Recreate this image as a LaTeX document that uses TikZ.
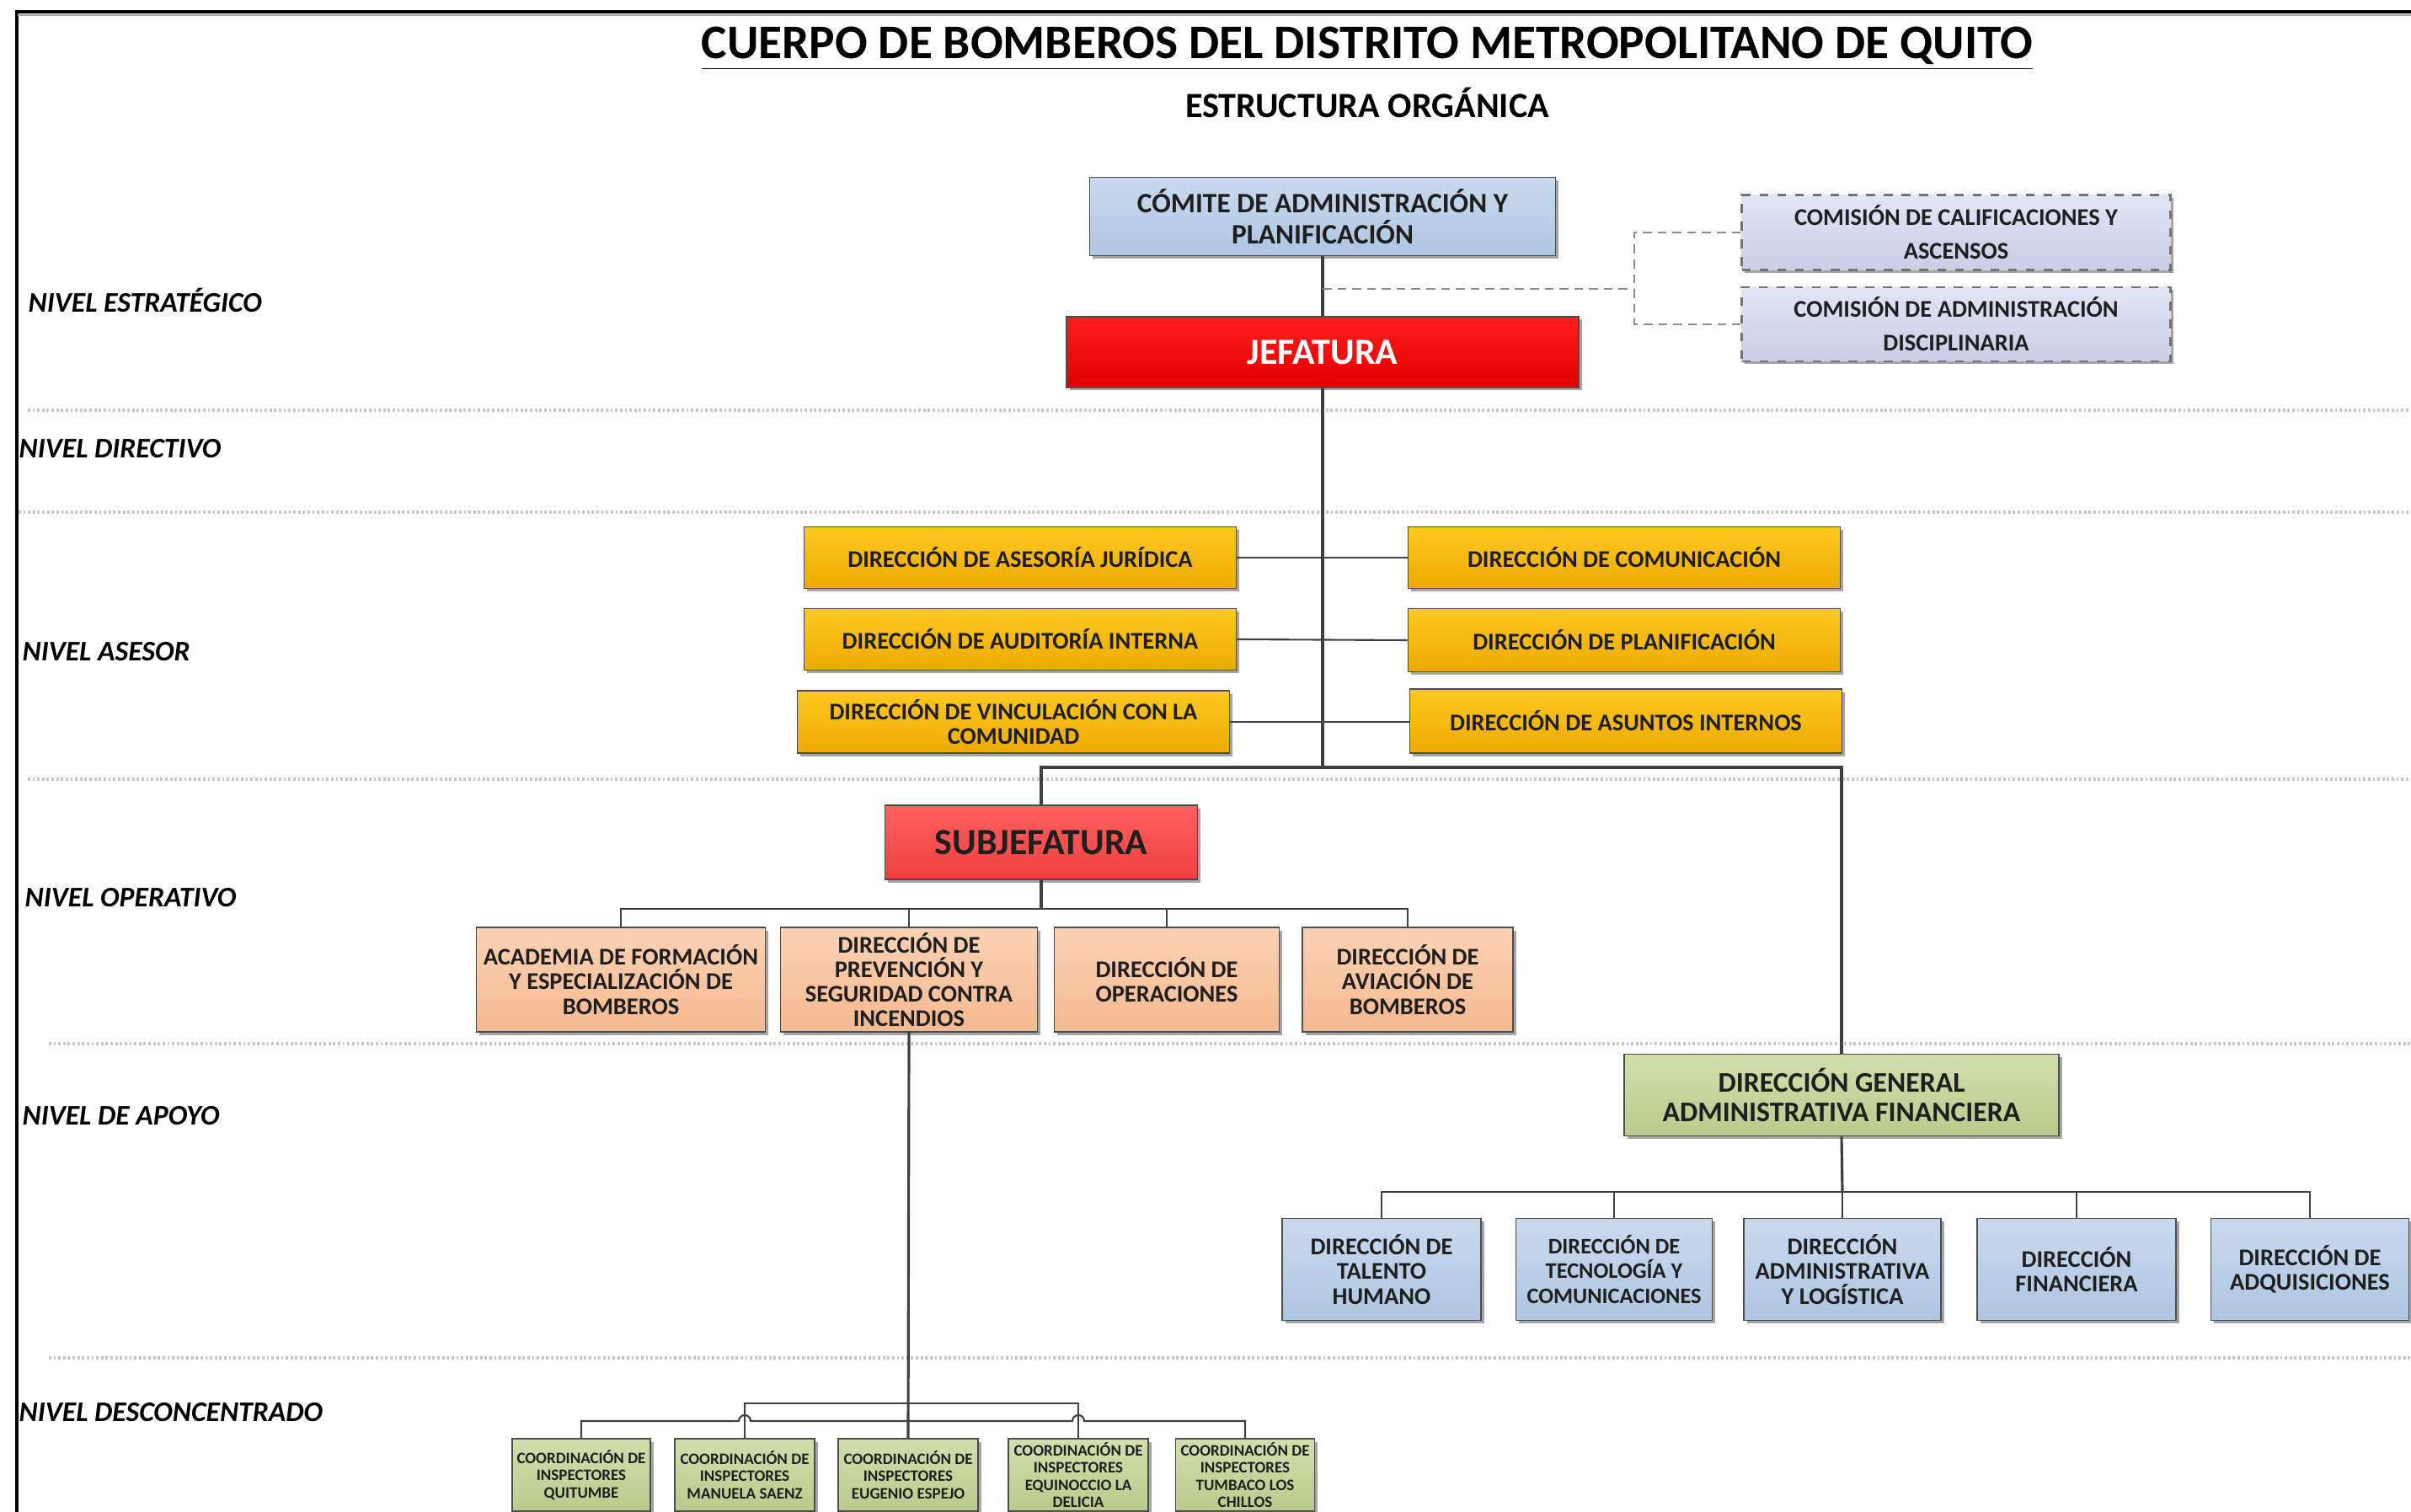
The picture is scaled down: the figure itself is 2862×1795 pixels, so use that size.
\documentclass[tikz,border=0pt]{standalone}
\usepackage{fontspec}
\setmainfont{Carlito}
\usetikzlibrary{shadows}
\definecolor{bluetop}{HTML}{C9DAEE}
\definecolor{bluebot}{HTML}{AEC5E0}
\definecolor{redtop}{HTML}{FF1E1E}
\definecolor{redbot}{HTML}{E00000}
\definecolor{subtop}{HTML}{FF6060}
\definecolor{subbot}{HTML}{F04040}
\definecolor{goldtop}{HTML}{FFC822}
\definecolor{goldbot}{HTML}{ECAA00}
\definecolor{peachtop}{HTML}{FBD2B4}
\definecolor{peachbot}{HTML}{F4B88F}
\definecolor{greentop}{HTML}{D0DFAD}
\definecolor{greenbot}{HTML}{B8CB8B}
\definecolor{lavtop}{HTML}{E2E5F4}
\definecolor{lavbot}{HTML}{C9CDE6}
\definecolor{linecol}{HTML}{404040}
\begin{document}
\begin{tikzpicture}[x=0.1mm, y=-0.1mm,
  sz/.style 2 args={minimum width=#1, minimum height=#2},
  fsz/.style 2 args={font=\bfseries\fontsize{#1}{#2}\selectfont},
  box/.style={draw=black!70, line width=0.5pt, align=center, inner sep=1pt, text=black!88,
    drop shadow={shadow xshift=0.35mm, shadow yshift=-0.35mm, fill=black!50, opacity=0.7}},
  bluebox/.style={box, top color=bluetop, bottom color=bluebot},
  redbox/.style={box, top color=redtop, bottom color=redbot, text=white},
  subbox/.style={box, top color=subtop, bottom color=subbot},
  goldbox/.style={box, top color=goldtop, bottom color=goldbot},
  peachbox/.style={box, top color=peachtop, bottom color=peachbot},
  greenbox/.style={box, top color=greentop, bottom color=greenbot},
  lavbox/.style={box, top color=lavtop, bottom color=lavbot, draw=black!55, dashed, line width=0.8pt},
  conn/.style={draw=linecol, line width=0.6pt},
  trunk/.style={draw=linecol, line width=0.9pt},
  dconn/.style={draw=black!45, line width=0.8pt, dash pattern=on 3pt off 2pt},
  sep/.style={draw=black!22, line width=1.2pt, dash pattern=on 0.8pt off 0.8pt},
  lvl/.style={anchor=west, inner sep=0pt, font=\bfseries\itshape\fontsize{9.6}{11}\selectfont}
]
\useasboundingbox (0,0) rectangle (2862,1795);
\fill[white] (0,0) rectangle (2862,1795);

% frame
\draw[black, line width=1pt] (20,1795) -- (20,14) -- (2862,14);
\draw[black!35, line width=0.6pt] (21,18) -- (2862,18);

% titles
\node[fsz={16.3}{19}] (title) at (1623,58) {\underline{CUERPO DE BOMBEROS DEL DISTRITO METROPOLITANO DE QUITO}};
\node[fsz={12}{14}] (subtitle) at (1623,122) {ESTRUCTURA ORGÁNICA};

% level labels
\node[lvl] (l1) at (33,356) {NIVEL ESTRATÉGICO};
\node[lvl] (l2) at (22,533) {NIVEL DIRECTIVO};
\node[lvl] (l3) at (26,774) {NIVEL ASESOR};
\node[lvl] (l4) at (29,1066) {NIVEL OPERATIVO};
\node[lvl] (l5) at (26,1325) {NIVEL DE APOYO};
\node[lvl] (l6) at (22,1677) {NIVEL DESCONCENTRADO};

% separators
\draw[sep] (33,487) -- (2862,487);
\draw[sep] (22,608) -- (2862,608);
\draw[sep] (33,925) -- (2862,925);
\draw[sep] (58,1239) -- (2862,1239);
\draw[sep] (58,1612) -- (2862,1612);

% strategic level
\node[bluebox, sz={55.3mm}{9.3mm}, fsz={9.5}{10.6}] (comite) at (1570,257) {CÓMITE DE ADMINISTRACIÓN Y\\PLANIFICACIÓN};
\node[redbox, sz={60.8mm}{8.4mm}, fsz={12.5}{13}] (jef) at (1570,418) {JEFATURA};
\node[lavbox, sz={50.9mm}{8.9mm}, fsz={8.1}{11.4}] (com1) at (2322,276) {COMISIÓN DE CALIFICACIONES Y\\ASCENSOS};
\node[lavbox, sz={50.9mm}{8.8mm}, fsz={8.1}{11.4}] (com2) at (2322,385) {COMISIÓN DE ADMINISTRACIÓN\\DISCIPLINARIA};

% advisory level
\node[goldbox, sz={51.3mm}{7.3mm}, fsz={8.1}{8.3}] (as1) at (1211,662) {DIRECCIÓN DE ASESORÍA JURÍDICA};
\node[goldbox, sz={51.3mm}{7.3mm}, fsz={8.1}{8.3}] (as2) at (1211,759) {DIRECCIÓN DE AUDITORÍA INTERNA};
\node[goldbox, sz={51.3mm}{7.4mm}, fsz={8.1}{8.3}] (as3) at (1203,857) {DIRECCIÓN DE VINCULACIÓN CON LA\\COMUNIDAD};
\node[goldbox, sz={51.3mm}{7.3mm}, fsz={8.1}{8.3}] (as4) at (1928,662) {DIRECCIÓN DE COMUNICACIÓN};
\node[goldbox, sz={51.3mm}{7.5mm}, fsz={8.1}{8.3}] (as5) at (1928,760) {DIRECCIÓN DE PLANIFICACIÓN};
\node[goldbox, sz={51.3mm}{7.6mm}, fsz={8.1}{8.3}] (as6) at (1930,856) {DIRECCIÓN DE ASUNTOS INTERNOS};

% operative level
\node[subbox, sz={37.1mm}{8.8mm}, fsz={12.5}{13}] (sub) at (1236,1000) {SUBJEFATURA};
\node[peachbox, sz={34.3mm}{12.4mm}, fsz={8.1}{8.3}] (op1) at (737,1163) {ACADEMIA DE FORMACIÓN\\Y ESPECIALIZACIÓN DE\\BOMBEROS};
\node[peachbox, sz={30.5mm}{12.4mm}, fsz={8.1}{8.3}] (op2) at (1079,1163) {DIRECCIÓN DE\\PREVENCIÓN Y\\SEGURIDAD CONTRA\\INCENDIOS};
\node[peachbox, sz={26.7mm}{12.4mm}, fsz={8.1}{8.3}] (op3) at (1385,1163) {DIRECCIÓN DE\\OPERACIONES};
\node[peachbox, sz={25.0mm}{12.4mm}, fsz={8.1}{8.3}] (op4) at (1671,1163) {DIRECCIÓN DE\\AVIACIÓN DE\\BOMBEROS};

% support level
\node[greenbox, sz={51.6mm}{9.7mm}, fsz={9.6}{10.2}] (dgaf) at (2186,1300) {DIRECCIÓN GENERAL\\ADMINISTRATIVA FINANCIERA};
\node[bluebox, sz={23.6mm}{12.1mm}, fsz={8.1}{8.3}] (ap1) at (1640,1507) {DIRECCIÓN DE\\TALENTO\\HUMANO};
\node[bluebox, sz={23.3mm}{12.1mm}, fsz={7.5}{8.3}] (ap2) at (1916,1507) {DIRECCIÓN DE\\TECNOLOGÍA Y\\COMUNICACIONES};
\node[bluebox, sz={23.4mm}{12.1mm}, fsz={8.1}{8.3}] (ap3) at (2187,1507) {DIRECCIÓN\\ADMINISTRATIVA\\Y LOGÍSTICA};
\node[bluebox, sz={23.6mm}{12.1mm}, fsz={8.1}{8.3}] (ap4) at (2465,1507) {DIRECCIÓN\\FINANCIERA};
\node[bluebox, sz={23.5mm}{12.1mm}, fsz={8.1}{8.3}] (ap5) at (2742,1507) {DIRECCIÓN DE\\ADQUISICIONES};

% deconcentrated level
\node[greenbox, sz={16.4mm}{8.6mm}, fsz={5.4}{5.8}] (de1) at (690,1751) {COORDINACIÓN DE\\INSPECTORES\\QUITUMBE};
\node[greenbox, sz={16.6mm}{8.6mm}, fsz={5.4}{5.8}] (de2) at (884,1751) {COORDINACIÓN DE\\INSPECTORES\\MANUELA SAENZ};
\node[greenbox, sz={16.6mm}{8.6mm}, fsz={5.4}{5.8}] (de3) at (1078,1751) {COORDINACIÓN DE\\INSPECTORES\\EUGENIO ESPEJO};
\node[greenbox, sz={16.6mm}{8.6mm}, fsz={5.4}{5.8}] (de4) at (1280,1751) {COORDINACIÓN DE\\INSPECTORES\\EQUINOCCIO LA\\DELICIA};
\node[greenbox, sz={16.5mm}{8.6mm}, fsz={5.4}{5.8}] (de5) at (1478,1751) {COORDINACIÓN DE\\INSPECTORES\\TUMBACO LOS\\CHILLOS};

% junction coordinates
\coordinate (dA) at (1570,343);
\coordinate (dB) at (1940,343);
\coordinate (jA) at (1570,911);
\coordinate (sB) at (1236,1079);
\coordinate (aB) at (2187,1415);
\coordinate (cU) at (1079,1666);
\coordinate (cL) at (1079,1687);

% connectors: strategic
\draw[trunk] (comite.south) -- (jef.north);
\draw[dconn] (dA) -- (dB);
\draw[dconn] (com1.west) -| (dB) |- (com2.west);
\draw[trunk] (jef.south) -- (jA);

% advisory
\draw[conn] (as1.east) -- (as4.west);
\draw[conn] (as2.east) -- (as5.west);
\draw[conn] (as3.east) -- (as3.east -| as6.west);

% to subjefatura and dgaf
\draw[trunk] (jA) -| (sub.north);
\draw[trunk] (jA) -| (dgaf.north);

% operative
\draw[trunk] (sub.south) -- (sB);
\draw[conn] (sB) -| (op1.north);
\draw[conn] (sB) -| (op2.north);
\draw[conn] (sB) -| (op3.north);
\draw[conn] (sB) -| (op4.north);

% support
\draw[trunk] (dgaf.south) -- (aB);
\draw[conn] (aB) -| (ap1.north);
\draw[conn] (aB) -| (ap2.north);
\draw[conn] (aB) -- (ap3.north);
\draw[conn] (aB) -| (ap4.north);
\draw[conn] (aB) -| (ap5.north);

% deconcentrated
\draw[trunk] (op2.south) -- (de3.north);
\draw[conn] (cU) -| (de2.north);
\draw[conn] (cU) -| (de4.north);
\draw[conn] (de1.north) |- (877,1687) arc[start angle=180, end angle=360, radius=7] -- (1273,1687) arc[start angle=180, end angle=360, radius=7] -| (de5.north);
\end{tikzpicture}
\end{document}
